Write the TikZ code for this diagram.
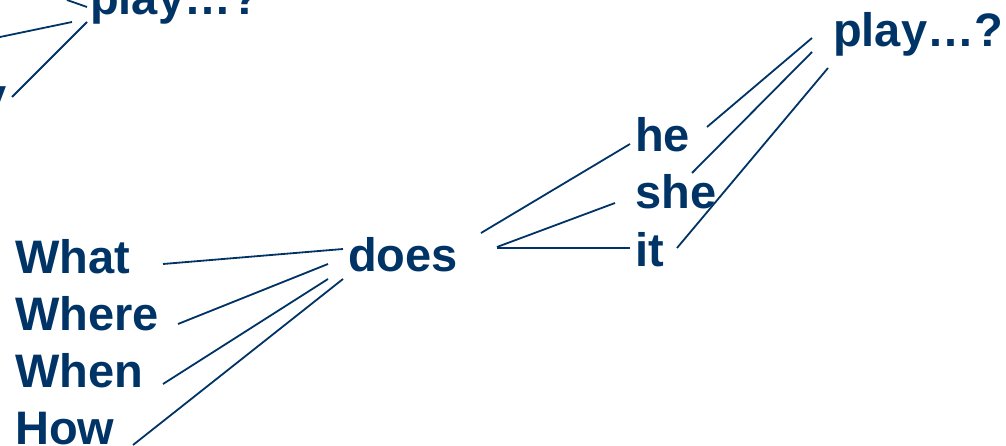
\documentclass[tikz,border=0pt]{standalone}
\usepackage{fontspec}
\setmainfont{Liberation Sans}
\definecolor{navy}{RGB}{0,51,102}
\begin{document}
\begin{tikzpicture}[x=1pt,y=-1pt,
  word/.style={anchor=base west,inner sep=0pt,text=navy,font=\fontsize{47}{47}\selectfont\bfseries},
  link/.style={draw=navy,line width=1.8pt}]
\useasboundingbox (0,0) rectangle (1006,446);
\clip (0,0) rectangle (1006,446);
% words
\node[word] (what)  at (15,273) {What};
\node[word] (where) at (15,330) {Where};
\node[word] (when)  at (15,387) {When};
\node[word] (how)   at (15,444) {How};
\node[word] (does)  at (348,272) {does};
\node[word] (he)    at (635,152) {he};
\node[word] (she)   at (635,209) {she};
\node[word] (it)    at (635,267) {it};
\node[word] (play)  at (833,47) {play…?};
\node[word] (play0) at (90,15) {play…?};
\node[word,anchor=base east] (they) at (7,112) {y};
% connector end points
\coordinate (a1) at (163,264); \coordinate (b1) at (343,249);
\coordinate (a2) at (178,324); \coordinate (b2) at (328,264);
\coordinate (a3) at (163,384); \coordinate (b3) at (328,279);
\coordinate (a4) at (133,445); \coordinate (b4) at (343,279);
\coordinate (c1) at (481,233); \coordinate (d1) at (630,144);
\coordinate (c2) at (497,247); \coordinate (d2) at (615,203);
\coordinate (c3) at (497,248); \coordinate (d3) at (630,248);
\coordinate (e1) at (707,127); \coordinate (f1) at (812,38);
\coordinate (e2) at (692,173); \coordinate (f2) at (812,52);
\coordinate (e3) at (677,248); \coordinate (f3) at (828,68);
\coordinate (g1) at (0,37);  \coordinate (h1) at (72,22);
\coordinate (g2) at (12,97); \coordinate (h2) at (87,22);
\coordinate (g3) at (67,0);  \coordinate (h3) at (87,7);
% connectors
\draw[link] (a1) -- (b1);
\draw[link] (a2) -- (b2);
\draw[link] (a3) -- (b3);
\draw[link] (a4) -- (b4);
\draw[link] (c1) -- (d1);
\draw[link] (c2) -- (d2);
\draw[link] (c3) -- (d3);
\draw[link] (e1) -- (f1);
\draw[link] (e2) -- (f2);
\draw[link] (e3) -- (f3);
\draw[link] (g1) -- (h1);
\draw[link] (g2) -- (h2);
\draw[link] (g3) -- (h3);
\end{tikzpicture}
\end{document}
